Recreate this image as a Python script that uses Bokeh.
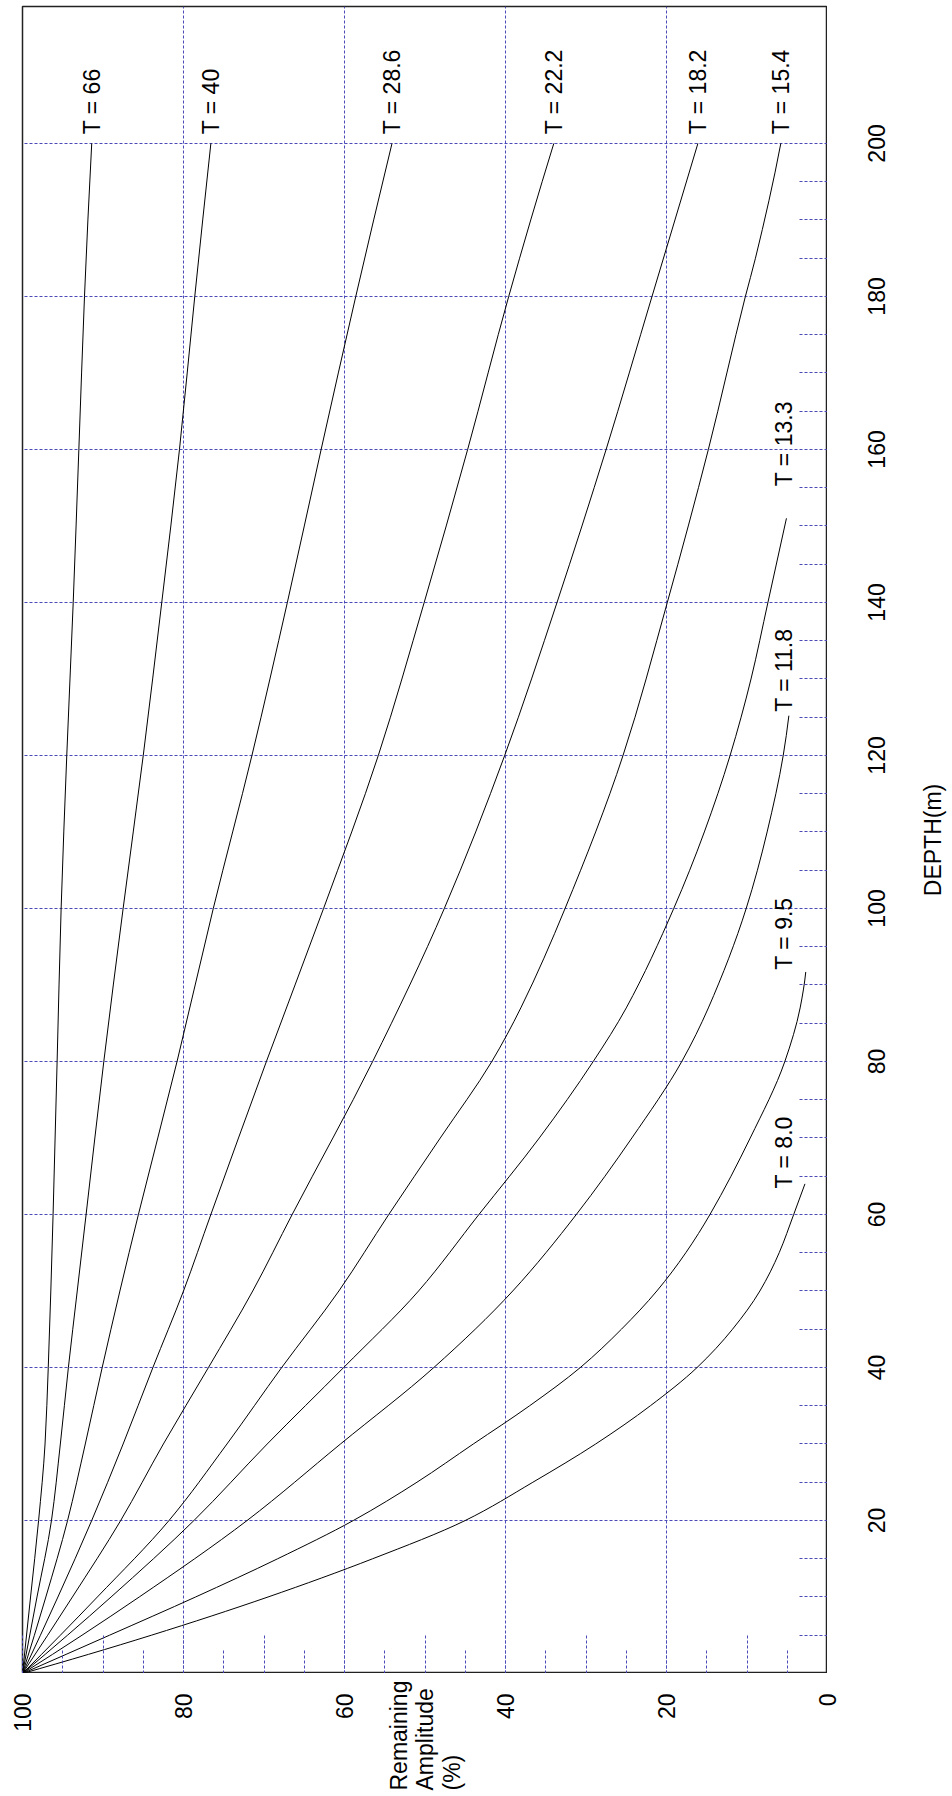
import math
from bokeh.plotting import figure
from bokeh.layouts import row, column
from bokeh.models import Range1d, FixedTicker, ColumnDataSource
from bokeh.embed import file_html
from bokeh.resources import INLINE
from bokeh.core.properties import value

# ---------------- data ----------------
periods = ["66", "40", "28.6", "22.2", "18.2", "15.4", "13.3", "11.8", "9.5", "8.0"]

depth_T66 = [0, 10, 20, 30, 40, 60, 80, 100, 120, 140, 160, 180, 200]
amp_T66 = [100, 99.0, 98.0, 97.2, 96.8, 96.2, 95.7, 95.2, 94.5, 93.7, 93.0, 92.3, 91.4]

depth_T40 = [0, 10, 20, 30, 40, 50, 60, 80, 100, 120, 140, 160, 180, 200]
amp_T40 = [100, 98.2, 96.4, 95.3, 94.3, 93.2, 92.1, 89.9, 87.5, 85.0, 82.7, 80.5, 78.6, 76.6]

depth_T28_6 = [0, 10, 20, 30, 40, 50, 60, 80, 100, 120, 140, 160, 180, 200]
amp_T28_6 = [100, 97.1, 94.4, 92.2, 90.1, 87.9, 85.6, 80.8, 76.3, 71.5, 67.1, 62.9, 58.6, 54.1]

depth_T22_2 = [0, 10, 20, 30, 40, 50, 60, 80, 100, 120, 140, 160, 180, 200]
amp_T22_2 = [100, 95.6, 91.4, 87.5, 83.8, 80.0, 76.6, 69.7, 62.6, 55.8, 50.1, 44.7, 39.6, 34.0]

depth_T18_2 = [0, 10, 20, 30, 40, 50, 60, 80, 100, 120, 140, 160, 180, 200]
amp_T18_2 = [100, 93.8, 87.8, 82.5, 76.9, 71.4, 66.5, 56.5, 47.6, 40.1, 33.6, 27.5, 21.8, 16.1]

depth_T15_4 = [0, 10, 20, 30, 40, 50, 60, 70, 80, 87, 100, 120, 140, 160, 180, 185, 200]
amp_T15_4 = [100, 90.7, 81.8, 74.6, 67.8, 60.7, 54.5, 48.1, 41.7, 38.1, 32.6, 25.4, 19.9, 14.8, 10.2, 8.95, 5.8]

depth_T13_3 = [0, 10, 20, 30, 40, 50, 60, 70, 80, 87, 100, 110, 120, 130, 140, 151]
amp_T13_3 = [100, 89.0, 78.7, 69.6, 60.1, 50.8, 43.3, 35.8, 29.1, 25.0, 19.1, 15.3, 12.1, 9.5, 7.4, 5.1]

depth_T11_8 = [0, 10, 20, 30, 40, 50, 60, 70, 80, 87, 100, 110, 120, 125.2]
amp_T11_8 = [100, 85.5, 72.1, 60.5, 48.9, 39.1, 31.2, 24.3, 18.1, 14.8, 10.1, 7.5, 5.5, 4.8]

depth_T9_5 = [0, 5, 10, 15, 20, 25, 30, 35, 40, 45, 50, 55, 60, 70, 80, 87, 91.7]
amp_T9_5 = [100, 89.2, 78.5, 68.3, 58.9, 51.0, 44.0, 37.0, 30.7, 25.6, 21.2, 17.6, 14.6, 9.6, 5.3, 3.4, 2.7]

depth_T8_0 = [0, 5, 10, 15, 20, 25, 30, 35, 40, 45, 50, 55, 60, 64]
amp_T8_0 = [100, 84.0, 69.5, 56.5, 45.0, 36.6, 28.8, 22.0, 16.2, 11.8, 8.4, 6.0, 4.2, 2.8]

# depth at which each curve label starts
label_depth = [201.2, 201.2, 201.2, 201.2, 201.2, 201.2, 155.2, 125.7, 92.0, 63.4]

amp_ticks = [0, 10, 20, 30, 40, 50, 60, 70, 80, 90, 100]
amp_labeled = [0, 20, 40, 60, 80, 100]
amp_minor = [5, 15, 25, 35, 45, 55, 65, 75, 85, 95]
depth_ticks = [20, 40, 60, 80, 100, 120, 140, 160, 180, 200]
depth_minor = [d for d in range(5, 200, 5) if d % 20 != 0]

series = [
    (depth_T66, amp_T66), (depth_T40, amp_T40), (depth_T28_6, amp_T28_6),
    (depth_T22_2, amp_T22_2), (depth_T18_2, amp_T18_2), (depth_T15_4, amp_T15_4),
    (depth_T13_3, amp_T13_3), (depth_T11_8, amp_T11_8), (depth_T9_5, amp_T9_5),
    (depth_T8_0, amp_T8_0),
]

# ---------------- layout constants ----------------
FONT = "Liberation Sans"
FS = "23px"
GRID = "#4a4ab8"
LEFT = 22
TOP = 6
FW, FH = 805, 1667
DEPTH_MAX = 217.9
RIGHT_W = 952 - LEFT - FW
BOTTOM_H = 118


def hermite_slopes(d, a):
    """Monotone (PCHIP) tangents dA/dd at the read points, used to draw smooth segments."""
    n = len(d)
    h = [d[i + 1] - d[i] for i in range(n - 1)]
    s = [(a[i + 1] - a[i]) / h[i] for i in range(n - 1)]
    m = [0.0] * n
    for i in range(1, n - 1):
        if s[i - 1] * s[i] <= 0:
            m[i] = 0.0
        else:
            w1 = 2 * h[i] + h[i - 1]
            w2 = h[i] + 2 * h[i - 1]
            m[i] = (w1 + w2) / (w1 / s[i - 1] + w2 / s[i])

    def end(h0, h1, s0, s1):
        t = ((2 * h0 + h1) * s0 - h0 * s1) / (h0 + h1)
        if t * s0 <= 0:
            return 0.0
        if s0 * s1 <= 0 and abs(t) > abs(3 * s0):
            return 3 * s0
        return t

    m[0] = end(h[0], h[1], s[0], s[1])
    m[-1] = end(h[-1], h[-2], s[-1], s[-2])
    return m


# ---------------- main figure ----------------
p = figure(
    frame_width=FW, frame_height=FH,
    x_range=Range1d(100, 0), y_range=Range1d(0, DEPTH_MAX),
    x_axis_location="below", y_axis_location="right",
    toolbar_location=None, output_backend="svg",
    min_border_left=LEFT, min_border_right=0, min_border_top=TOP, min_border_bottom=0,
)
p.background_fill_color = "white"
p.border_fill_color = "white"
p.outline_line_color = "#222222"
p.outline_line_width = 1.5

xa = p.xaxis[0]
xa.ticker = FixedTicker(ticks=amp_ticks, minor_ticks=amp_minor)
xa.major_label_text_color = None
xa.major_label_text_font_size = "0px"
xa.major_label_standoff = 0
xa.major_tick_in = 40
xa.major_tick_out = 0
xa.minor_tick_in = 24
xa.minor_tick_out = 0
xa.major_tick_line_color = GRID
xa.minor_tick_line_color = GRID
xa.major_tick_line_dash = "3 2"
xa.minor_tick_line_dash = "3 2"
xa.axis_line_color = "#222222"
xa.axis_line_width = 1.5

ya = p.yaxis[0]
ya.ticker = FixedTicker(ticks=depth_ticks, minor_ticks=depth_minor)
ya.major_label_text_color = None
ya.major_label_text_font_size = "0px"
ya.major_label_standoff = 0
ya.major_tick_in = 0
ya.major_tick_out = 0
ya.minor_tick_in = 30
ya.minor_tick_out = 0
ya.minor_tick_line_color = GRID
ya.minor_tick_line_dash = "3 2"
ya.axis_line_color = "#222222"
ya.axis_line_width = 1.5

p.xgrid.ticker = FixedTicker(ticks=[a for a in amp_labeled if 0 < a < 100])
p.ygrid.ticker = FixedTicker(ticks=depth_ticks)
for g in (p.xgrid[0], p.ygrid[0]):
    g.grid_line_color = GRID
    g.grid_line_dash = "3 2"
    g.grid_line_width = 1

# curves: smooth cubic segments through the read points
for depths, amps in series:
    m = hermite_slopes(depths, amps)
    seg = dict(x0=[], y0=[], x1=[], y1=[], cx0=[], cy0=[], cx1=[], cy1=[])
    for i in range(len(depths) - 1):
        h = depths[i + 1] - depths[i]
        seg["x0"].append(amps[i]); seg["y0"].append(depths[i])
        seg["x1"].append(amps[i + 1]); seg["y1"].append(depths[i + 1])
        seg["cx0"].append(amps[i] + m[i] * h / 3); seg["cy0"].append(depths[i] + h / 3)
        seg["cx1"].append(amps[i + 1] - m[i + 1] * h / 3); seg["cy1"].append(depths[i + 1] - h / 3)
    p.bezier(x0="x0", y0="y0", x1="x1", y1="y1", cx0="cx0", cy0="cy0", cx1="cx1", cy1="cy1",
             source=ColumnDataSource(seg), line_color="black", line_width=1)

label_amp = [max(a[-1], 5.4) for _, a in series]
label_src = ColumnDataSource(dict(
    x=label_amp, y=label_depth, text=["T = " + t for t in periods]))
p.text(x="x", y="y", text="text", source=label_src, angle=math.pi / 2,
       text_align="left", text_baseline="middle",
       text_font=value(FONT), text_font_size=value(FS), text_color="black")


def bare(fig):
    fig.axis.visible = False
    fig.grid.visible = False
    fig.outline_line_color = None
    fig.background_fill_color = "white"
    fig.border_fill_color = "white"
    return fig


# ---------------- right strip: depth tick labels and title ----------------
r = bare(figure(
    frame_width=RIGHT_W, frame_height=FH,
    x_range=Range1d(0, RIGHT_W), y_range=p.y_range,
    toolbar_location=None, output_backend="svg",
    min_border_left=0, min_border_right=0, min_border_top=TOP, min_border_bottom=0,
))
r.text(x=[40] * len(depth_ticks), y=depth_ticks, text=[str(d) for d in depth_ticks],
       angle=math.pi / 2, text_align="center", text_baseline="top",
       text_font=value(FONT), text_font_size=value(FS), text_color="black")
r.text(x=[92], y=[(p.y_range.start + p.y_range.end) / 2], text=["DEPTH(m)"],
       angle=math.pi / 2, text_align="center", text_baseline="top",
       text_font=value(FONT), text_font_size=value(FS), text_color="black")

# ---------------- bottom strip: amplitude tick labels and title ----------------
px_per_unit = FW / 100.0
b = bare(figure(
    frame_width=952, frame_height=BOTTOM_H,
    x_range=Range1d(100 + LEFT / px_per_unit, 100 - (952 - LEFT) / px_per_unit),
    y_range=Range1d(BOTTOM_H, 0),
    toolbar_location=None, output_backend="svg",
    min_border_left=0, min_border_right=0, min_border_top=0, min_border_bottom=0,
))
b.text(x=amp_labeled, y=[20] * len(amp_labeled), text=[str(a) for a in amp_labeled],
       angle=math.pi / 2, text_align="right", text_baseline="middle",
       text_font=value(FONT), text_font_size=value(FS), text_color="black")
b.text(x=[50, 50, 50], y=[117, 117, 117], text=["Remaining", "Amplitude", "(%)"],
       x_offset=[-26.5, 0, 26.5], angle=math.pi / 2,
       text_align="left", text_baseline="middle",
       text_font=value(FONT), text_font_size=value(FS), text_color="black")

layout = column(row(p, r), b)
open("out.html", "w").write(file_html(layout, INLINE))
